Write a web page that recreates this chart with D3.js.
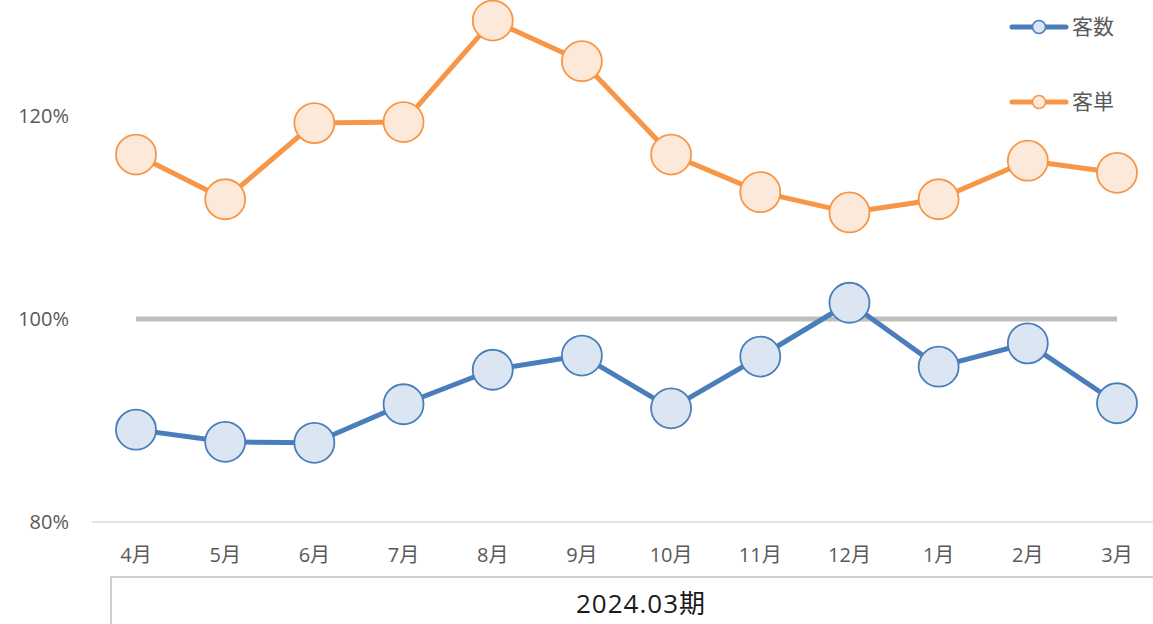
<!DOCTYPE html>
<html>
<head>
<meta charset="utf-8">
<script src="https://cdn.jsdelivr.net/npm/d3@7"></script>
<style>
  html, body { margin: 0; padding: 0; background: #fff; }
  svg { display: block; font-family: "Open Sans", "Noto Sans CJK JP", sans-serif; }
</style>
</head>
<body>
<svg id="chart" width="1153" height="624"></svg>
<script>
// Monthly ratios (%) for fiscal period 2024.03
const months = ["4月", "5月", "6月", "7月", "8月", "9月", "10月", "11月", "12月", "1月", "2月", "3月"];
const customers = [89.1, 87.9, 87.8, 91.6, 95.0, 96.4, 91.2, 96.3, 101.6, 95.3, 97.6, 91.7];
const unitPrice = [116.2, 111.8, 119.3, 119.4, 129.4, 125.4, 116.2, 112.5, 110.5, 111.8, 115.6, 114.4];
const yTicks = [80, 100, 120];
const baseline = 100;
const periodLabel = "2024.03期";

const seriesList = [
  { name: "客数", values: customers, stroke: "#4a7ebb", fill: "#dce6f2" },
  { name: "客単", values: unitPrice, stroke: "#f79646", fill: "#fde9d9" }
];

const svg = d3.select("#chart");

const x = d3.scalePoint().domain(months).range([136, 1117]);
const y = d3.scaleLinear().domain([80, 120]).range([522, 116]);

// Horizontal category axis line
svg.append("line")
  .attr("x1", 92).attr("x2", 1153)
  .attr("y1", y(80)).attr("y2", y(80))
  .attr("stroke", "#d9d9d9").attr("stroke-width", 1.5);

// Y tick labels
svg.append("g").selectAll("text").data(yTicks).join("text")
  .attr("x", 69).attr("y", d => y(d))
  .attr("dy", "0.35em")
  .attr("text-anchor", "end")
  .attr("font-size", 20)
  .attr("fill", "#595959")
  .text(d => d + "%");

// Month labels
svg.append("g").selectAll("text").data(months).join("text")
  .attr("x", d => x(d)).attr("y", 555)
  .attr("dy", "0.35em")
  .attr("text-anchor", "middle")
  .attr("font-size", 20)
  .attr("fill", "#595959")
  .text(d => d);

// Period group box
svg.append("path")
  .attr("d", `M111,624 V577 H1153`)
  .attr("fill", "none")
  .attr("stroke", "#bfbfbf").attr("stroke-width", 1.5);
svg.append("text")
  .attr("x", 641).attr("y", 604)
  .attr("dy", "0.35em")
  .attr("text-anchor", "middle")
  .attr("font-size", 26)
  .attr("letter-spacing", 1)
  .attr("fill", "#1a1a1a")
  .text(periodLabel);

// 100% reference line
svg.append("line")
  .attr("x1", x(months[0])).attr("x2", x(months[months.length - 1]))
  .attr("y1", y(baseline)).attr("y2", y(baseline))
  .attr("stroke", "#bfbfbf").attr("stroke-width", 5);

const line = d3.line().x((d, i) => x(months[i])).y(d => y(d));

seriesList.forEach(s => {
  svg.append("path")
    .datum(s.values)
    .attr("d", line)
    .attr("fill", "none")
    .attr("stroke", s.stroke)
    .attr("stroke-width", 5)
    .attr("stroke-linejoin", "round");
  svg.append("g").selectAll("circle").data(s.values).join("circle")
    .attr("cx", (d, i) => x(months[i]))
    .attr("cy", d => y(d))
    .attr("r", 20)
    .attr("fill", s.fill)
    .attr("stroke", s.stroke)
    .attr("stroke-width", 1.8);
});

// Legend
const legend = svg.append("g").selectAll("g").data(seriesList).join("g")
  .attr("transform", (d, i) => `translate(1012, ${27 + i * 75})`);
legend.append("line")
  .attr("x1", 0).attr("x2", 54)
  .attr("stroke", d => d.stroke).attr("stroke-width", 5)
  .attr("stroke-linecap", "round");
legend.append("circle")
  .attr("cx", 27).attr("r", 6.5)
  .attr("fill", d => d.fill)
  .attr("stroke", d => d.stroke).attr("stroke-width", 1.5);
legend.append("text")
  .attr("x", 60).attr("dy", "0.35em")
  .attr("font-size", 21)
  .attr("fill", "#595959")
  .text(d => d.name);
</script>
</body>
</html>
